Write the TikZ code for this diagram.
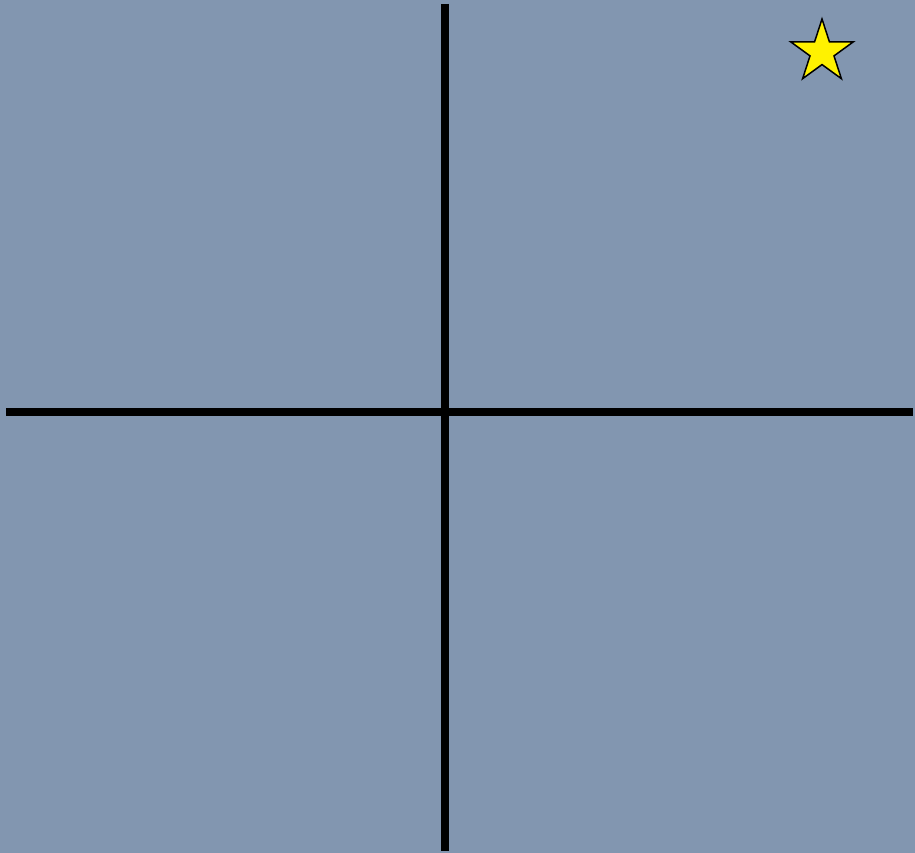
\documentclass[tikz,border=0pt]{standalone}
\usepackage{tikz}
\usetikzlibrary{shapes.geometric}
\definecolor{skyblue}{RGB}{130,150,176}

\begin{document}
\begin{tikzpicture}[x=1pt, y=1pt]
    % Background
    \fill[skyblue] (0,0) rectangle (915,853);
    \useasboundingbox (0,0) rectangle (915,853);

    % Axes end points
    \coordinate (top) at (445,849);
    \coordinate (bottom) at (445,2);
    \coordinate (left) at (6,441);
    \coordinate (right) at (913,441);

    % Axes
    \draw[line width=7.5pt] (top) -- (bottom); % Vertical
    \draw[line width=7.5pt] (left) -- (right); % Horizontal

    % Star
    \node[star, star points=5, star point ratio=2.618, minimum size=66pt,
          inner sep=0pt, draw=black, line width=1.5pt, fill=yellow]
          (star) at (822,801) {};
\end{tikzpicture}
\end{document}
